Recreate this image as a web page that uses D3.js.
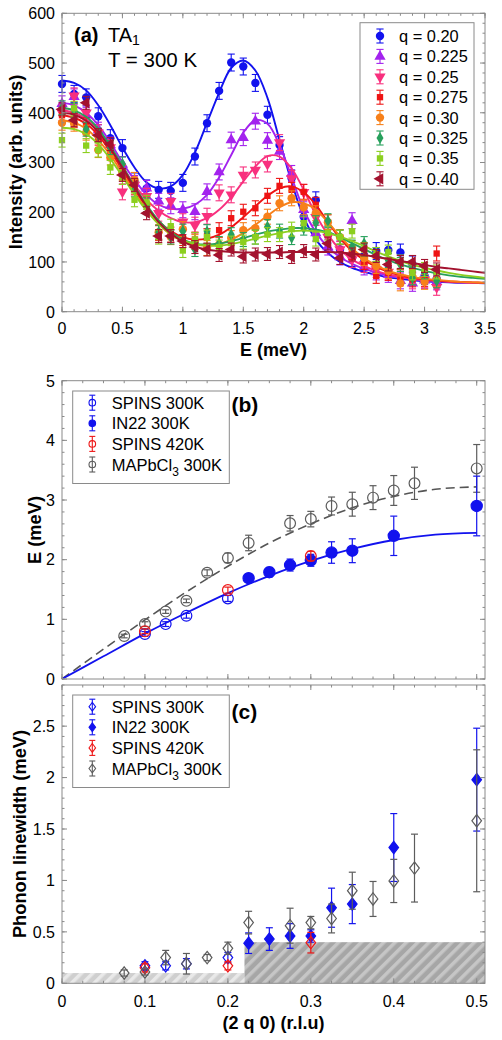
<!DOCTYPE html>
<html><head><meta charset="utf-8">
<script src="https://cdn.jsdelivr.net/npm/d3@7"></script>
<style>body{margin:0;background:#fff}svg{display:block;font-family:"Liberation Sans",Arial,Helvetica,sans-serif}</style>
</head><body><svg id="c" width="502" height="1040"></svg>
<script>
// ---------------- DATA : panel (a) ----------------
const energyGrid = [0,0.1,0.2,0.3,0.4,0.5,0.6,0.7,0.8,0.9,1.0,1.1,1.2,1.3,1.4,1.5,1.6,1.7,1.8,1.9,2.0,2.1,2.2,2.3,2.4,2.5,2.6,2.7,2.8,2.9,3.0,3.1];
const fitGrid = [0,0.1,0.2,0.3,0.4,0.5,0.6,0.7,0.8,0.9,1.0,1.1,1.2,1.3,1.4,1.5,1.6,1.7,1.8,1.9,2.0,2.1,2.2,2.3,2.4,2.5,2.6,2.7,2.8,2.9,3.0,3.1,3.2,3.3,3.4,3.5];
const qLabels = ["q = 0.20","q = 0.225","q = 0.25","q = 0.275","q = 0.30","q = 0.325","q = 0.35","q = 0.40"];

const int020  = [458,438,431,393,349,329,262,248,245,243,259,312,379,444,501,493,460,396,335,268,191,224,155,125,108,100,122,124,119,95,72,66];
const int0225 = [418,432,395,365,335,296,258,248,222,213,205,201,241,281,345,350,383,344,322,278,205,158,130,110,183,90,80,75,62,57,63,60];
const int025  = [400,434,400,360,330,241,255,232,198,222,181,174,192,239,235,275,285,297,340,268,240,190,150,125,105,95,85,80,68,62,64,49];
const int0275 = [395,385,375,350,320,280,250,215,158,155,148,145,152,164,188,201,208,233,253,245,241,215,180,150,120,100,72,78,70,65,66,117];
const int030  = [380,378,360,325,310,280,265,215,160,150,166,140,128,135,148,164,168,191,218,228,210,198,180,150,128,108,92,82,57,70,60,65];
const int0325 = [410,405,367,355,330,297,245,215,160,150,162,125,161,137,155,145,150,171,162,149,168,179,183,150,130,137,115,103,95,68,80,62];
const int035  = [345,409,334,325,290,270,225,220,150,172,123,145,150,130,138,140,150,155,155,166,178,146,158,150,162,125,115,120,100,78,85,80];
const int040  = [407,385,420,355,337,275,255,198,152,152,142,130,125,114,125,111,115,116,120,110,122,115,137,108,115,125,112,95,100,100,92,85];
const intErr  = [17,16,16,15,15,14,14,13];

const fit020  = [465,460,445,415,375,330,290,260,248,252,275,320,380,440,490,505,485,430,345,260,190,145,118,100,88,80,74,69,66,63,61,60,59,58,58,57];
const fit0225 = [420,415,400,375,340,300,265,235,215,207,207,215,235,270,315,360,385,378,335,270,205,160,130,110,96,86,79,73,69,66,63,62,60,59,58,58];
const fit025  = [405,400,388,365,330,292,255,225,203,188,180,180,188,205,230,262,292,313,312,288,245,195,155,125,105,92,82,75,70,66,63,62,60,59,58,58];
const fit0275 = [395,390,378,355,322,285,245,210,182,162,150,145,147,155,170,190,212,233,248,252,240,215,180,148,122,104,90,80,73,68,65,63,61,60,59,58];
const fit030  = [385,380,368,345,315,278,240,205,176,155,142,135,133,136,145,158,175,193,210,220,218,205,180,152,127,108,93,82,75,70,66,64,62,60,59,58];
const fit0325 = [410,405,392,368,333,293,252,215,183,160,145,137,135,137,142,148,155,161,165,168,168,165,160,150,138,126,114,104,95,88,82,77,73,70,68,66];
const fit035  = [370,367,357,337,307,272,236,203,176,156,143,136,133,133,136,141,147,153,158,162,163,162,158,151,142,132,121,111,102,94,88,83,78,74,71,68];
const fit040  = [400,396,384,361,328,290,250,212,180,157,141,131,125,122,120,119,119,119,119,120,120,120,120,119,117,114,110,106,102,98,94,90,87,84,81,78];

const intensityTicks = [0,100,200,300,400,500,600];
const energyTicks = [0,0.5,1,1.5,2,2.5,3,3.5];

// ---------------- DATA : panel (b) ----------------
const dispLabels = ["SPINS 300K","IN22 300K","SPINS 420K","MAPbCl"];
const qSpins300 = [0.1,0.125,0.15,0.2];
const eSpins300 = [0.754,0.92,1.06,1.35];
const eSpins300Err = [0.04,0.04,0.04,0.05];
const qIn22 = [0.225,0.25,0.275,0.3,0.325,0.35,0.4,0.5];
const eIn22 = [1.69,1.79,1.91,1.99,2.12,2.15,2.40,2.90];
const eIn22Err = [0.07,0.08,0.1,0.1,0.18,0.2,0.33,0.5];
const qSpins420 = [0.1,0.2,0.3];
const eSpins420 = [0.80,1.49,2.06];
const eSpins420Err = [0.04,0.05,0.08];
const qMapb = [0.075,0.1,0.125,0.15,0.175,0.2,0.225,0.275,0.3,0.325,0.35,0.375,0.4,0.425,0.5];
const eMapb = [0.72,0.92,1.13,1.31,1.78,2.03,2.28,2.61,2.68,2.90,2.93,3.04,3.16,3.28,3.53];
const eMapbErr = [0.03,0.04,0.03,0.03,0.05,0.08,0.13,0.13,0.13,0.15,0.2,0.2,0.25,0.27,0.4];
const dispFitQ = [0,0.05,0.1,0.15,0.2,0.25,0.3,0.35,0.4,0.45,0.5];
const dispFitMapi = [0,0.38,0.76,1.11,1.44,1.73,1.98,2.18,2.33,2.42,2.45];
const dispFitMapb = [0,0.50,0.99,1.46,1.89,2.28,2.60,2.87,3.06,3.18,3.22];
const energyTicksB = [0,1,2,3,4,5];

// ---------------- DATA : panel (c) ----------------
const wSpins300 = [0.17,0.17,0.19,0.25];
const wSpins300Err = [0.04,0.04,0.05,0.05];
const wIn22 = [0.39,0.43,0.46,0.46,0.735,0.77,1.32,1.98];
const wIn22Err = [0.1,0.11,0.12,0.06,0.19,0.19,0.33,0.5];
const wSpins420 = [0.15,0.17,0.395];
const wSpins420Err = [0.04,0.04,0.1];
const wMapb = [0.10,0.11,0.25,0.19,0.25,0.34,0.59,0.56,0.59,0.63,0.90,0.82,0.995,1.12,1.58];
const wMapbErr = [0.03,0.03,0.07,0.1,0.03,0.06,0.11,0.17,0.06,0.14,0.18,0.17,0.21,0.33,0.69];
const resolutionQ = [0,0.22,0.51];
const resolutionW = [0.1,0.4];
const widthTicks = [0,0.5,1,1.5,2,2.5];
const qTicks = [0,0.1,0.2,0.3,0.4,0.5];

// ---------------- STYLE ----------------
const colA = ["#1212ee","#a323ee","#f8307e","#ee1414","#f7801a","#27a05c","#8ccf1f","#a3122e"];
const shapeA = ["circle","triUp","triDown","square","circle","diamond","square","triLeft"];
const BLUE="#1212ee", RED="#ee1818", GRAY="#5c5c5c", FRAME="#8a8a8a";

const svg = d3.select("#c");
const defs = svg.append("defs");
function hatch(id, base, stripe){
  const p = defs.append("pattern").attr("id",id).attr("patternUnits","userSpaceOnUse")
    .attr("width",8).attr("height",8).attr("patternTransform","rotate(45)");
  p.append("rect").attr("width",8).attr("height",8).attr("fill",base);
  p.append("rect").attr("width",3.5).attr("height",8).attr("fill",stripe);
}
hatch("hL","#cfcfcf","#e9e9e9");
hatch("hR","#a6a6a6","#c6c6c6");

function symPath(shape, size){
  const map = {circle:d3.symbolCircle, triUp:d3.symbolTriangle, triDown:d3.symbolTriangle, triLeft:d3.symbolTriangle, square:d3.symbolSquare, diamond:d3.symbolDiamond};
  return d3.symbol().type(map[shape]).size(size)();
}
function symRot(shape){ return shape==="triDown"?180:(shape==="triLeft"?-90:0); }

function frame(g, x, y, xMaj, xMin, yMaj, yMin){
  const [x0,x1]=x.range(), [y0,y1]=y.range();
  const t = g.append("g").attr("stroke",FRAME).attr("stroke-width",1);
  const yt = Math.min(y0,y1), yb = Math.max(y0,y1);
  xMin.forEach(v=>{const px=x(v); t.append("line").attr("x1",px).attr("x2",px).attr("y1",yb).attr("y2",yb-2.5);
    t.append("line").attr("x1",px).attr("x2",px).attr("y1",yt).attr("y2",yt+2.5);});
  xMaj.forEach(v=>{const px=x(v); t.append("line").attr("x1",px).attr("x2",px).attr("y1",yb).attr("y2",yb-5);
    t.append("line").attr("x1",px).attr("x2",px).attr("y1",yt).attr("y2",yt+5);});
  yMin.forEach(v=>{const py=y(v); t.append("line").attr("y1",py).attr("y2",py).attr("x1",x0).attr("x2",x0+2.5);
    t.append("line").attr("y1",py).attr("y2",py).attr("x1",x1).attr("x2",x1-2.5);});
  yMaj.forEach(v=>{const py=y(v); t.append("line").attr("y1",py).attr("y2",py).attr("x1",x0).attr("x2",x0+5);
    t.append("line").attr("y1",py).attr("y2",py).attr("x1",x1).attr("x2",x1-5);});
  t.append("rect").attr("x",x0).attr("y",yt).attr("width",x1-x0).attr("height",yb-yt).attr("fill","none");
}
function yLabels(g, y, vals, fmt){
  g.selectAll(null).data(vals).enter().append("text").attr("x",55).attr("y",d=>y(d)+5.8)
    .attr("text-anchor","end").attr("font-size",16).text(fmt);
}
function errbar(g, px, py1, py2, cap, color, w){
  g.append("line").attr("x1",px).attr("x2",px).attr("y1",py1).attr("y2",py2).attr("stroke",color).attr("stroke-width",w);
  g.append("line").attr("x1",px-cap).attr("x2",px+cap).attr("y1",py1).attr("y2",py1).attr("stroke",color).attr("stroke-width",w);
  g.append("line").attr("x1",px-cap).attr("x2",px+cap).attr("y1",py2).attr("y2",py2).attr("stroke",color).attr("stroke-width",w);
}

// ================= PANEL (a) =================
const xA = d3.scaleLinear().domain([0,3.5]).range([62,485]);
const yA = d3.scaleLinear().domain([0,600]).range([311.7,13.3]);
const gA = svg.append("g");
defs.append("clipPath").attr("id","clipA").append("rect").attr("x",62).attr("y",13.3).attr("width",423).attr("height",298.4);

const intens = [int020,int0225,int025,int0275,int030,int0325,int035,int040];
const fits = [fit020,fit0225,fit025,fit0275,fit030,fit0325,fit035,fit040];
const lineA = d3.line().x((d,i)=>xA(fitGrid[i])).y(d=>yA(d)).curve(d3.curveCatmullRom.alpha(0.5));

const order=[0,1,2,3,4,5,6,7];
order.forEach(s=>{
  const g = gA.append("g");
  intens[s].forEach((v,i)=>{
    const px=xA(energyGrid[i]);
    errbar(g, px, yA(v+intErr[s]), yA(v-intErr[s]), 3.6, colA[s], 1.1);
    g.append("path").attr("d",symPath(shapeA[s], shapeA[s]==="square"?40:(shapeA[s]==="diamond"?42:55)))
      .attr("transform",`translate(${px},${yA(v)}) rotate(${symRot(shapeA[s])})`).attr("fill",colA[s]);
  });
  gA.append("path").attr("d",lineA(fits[s])).attr("fill","none").attr("stroke",colA[s]).attr("stroke-width",1.9)
    .attr("clip-path","url(#clipA)");
});
frame(gA, xA, yA, energyTicks, d3.range(0,3.51,0.1), intensityTicks, d3.range(0,601,20));
yLabels(gA, yA, intensityTicks, d=>d);
gA.selectAll(null).data(energyTicks).enter().append("text").attr("x",d=>xA(d)).attr("y",334)
  .attr("text-anchor","middle").attr("font-size",16).text(d=>d);
gA.append("text").attr("x",273.5).attr("y",356).attr("text-anchor","middle").attr("font-size",18).attr("font-weight","bold").text("E (meV)");
gA.append("text").attr("transform","translate(21.5,162) rotate(-90)").attr("text-anchor","middle").attr("font-size",18.3).attr("font-weight","bold").text("Intensity (arb. units)");
gA.append("text").attr("x",74).attr("y",42).attr("font-size",20).attr("font-weight","bold").text("(a)");
const ta = gA.append("text").attr("x",108).attr("y",42).attr("font-size",20);
ta.append("tspan").text("TA");
ta.append("tspan").attr("font-size",14).attr("dy",3).text("1");
gA.append("text").attr("x",108).attr("y",67).attr("font-size",20.5).text("T = 300 K");
// legend (a)
const lgA = gA.append("g");
lgA.append("rect").attr("x",360).attr("y",22.7).attr("width",114).attr("height",166.6).attr("fill","#fff").attr("stroke",FRAME).attr("stroke-width",1);
qLabels.forEach((lab,s)=>{
  const cy = 36 + s*20.4;
  errbar(lgA, 380, cy-7, cy+7, 3.6, colA[s], 1.1);
  lgA.append("path").attr("d",symPath(shapeA[s], shapeA[s]==="square"?40:(shapeA[s]==="diamond"?42:55)))
    .attr("transform",`translate(380,${cy}) rotate(${symRot(shapeA[s])})`).attr("fill",colA[s]);
  lgA.append("text").attr("x",399).attr("y",cy+6).attr("font-size",16.4).text(lab);
});

// ================= PANEL (b) =================
const xB = d3.scaleLinear().domain([0,0.51]).range([62,485]);
const yB = d3.scaleLinear().domain([0,5]).range([679,380.7]);
const gB = svg.append("g");
const lineB = d3.line().x((d,i)=>xB(dispFitQ[i])).y(d=>yB(d)).curve(d3.curveMonotoneX);
gB.append("path").attr("d",lineB(dispFitMapb)).attr("fill","none").attr("stroke","#555").attr("stroke-width",1.6).attr("stroke-dasharray","9,5");
gB.append("path").attr("d",lineB(dispFitMapi)).attr("fill","none").attr("stroke",BLUE).attr("stroke-width",1.8);

function pointsB(g, qs, vs, es, color, filled, r){
  qs.forEach((q,i)=>{
    const px=xB(q);
    errbar(g, px, yB(vs[i]+es[i]), yB(vs[i]-es[i]), 3.5, color, 1.2);
    g.append("circle").attr("cx",px).attr("cy",yB(vs[i])).attr("r",r)
      .attr("fill",filled?color:"none").attr("stroke",color).attr("stroke-width",1.2);
  });
}
pointsB(gB, qMapb, eMapb, eMapbErr, GRAY, false, 5.4);
pointsB(gB, qSpins300, eSpins300, eSpins300Err, BLUE, false, 5.4);
pointsB(gB, qIn22, eIn22, eIn22Err, BLUE, true, 5.6);
pointsB(gB, qSpins420, eSpins420, eSpins420Err, RED, false, 5.4);
frame(gB, xB, yB, qTicks, d3.range(0,0.51,0.025), energyTicksB, d3.range(0,5.01,0.2));
yLabels(gB, yB, energyTicksB, d=>d);
gB.append("text").attr("transform","translate(40.5,530) rotate(-90)").attr("text-anchor","middle").attr("font-size",18.3).attr("font-weight","bold").text("E (meV)");
gB.append("text").attr("x",231.5).attr("y",411.5).attr("font-size",21).attr("font-weight","bold").text("(b)");

function legendBC(g, y0, kind){
  g.append("rect").attr("x",72.7).attr("y",y0).attr("width",156.6).attr("height",92.5).attr("fill","#fff").attr("stroke",FRAME).attr("stroke-width",1);
  const cols=[BLUE,BLUE,RED,GRAY], fill=[false,true,false,false];
  dispLabels.forEach((lab,i)=>{
    const cy = y0 + 11.7 + i*20.6;
    errbar(g, 92.3, cy-7.5, cy+7.5, 3, cols[i], 1.1);
    if(kind==="circle"){
      g.append("circle").attr("cx",92.3).attr("cy",cy).attr("r",3.3).attr("fill",fill[i]?cols[i]:"none").attr("stroke",cols[i]).attr("stroke-width",1.1);
    } else {
      g.append("path").attr("d",`M0,-4.4L3.3,0L0,4.4L-3.3,0Z`).attr("transform",`translate(92.3,${cy})`)
        .attr("fill",fill[i]?cols[i]:"none").attr("stroke",cols[i]).attr("stroke-width",1.1);
    }
    const t = g.append("text").attr("x",111.7).attr("y",cy+6).attr("font-size",16.5);
    if(i===3){
      t.append("tspan").text(lab);
      t.append("tspan").attr("font-size",12).attr("dy",5).text("3");
      t.append("tspan").attr("dy",-5).text(" 300K");
    } else t.text(lab);
  });
}
legendBC(gB, 391, "circle");

// ================= PANEL (c) =================
const xC = d3.scaleLinear().domain([0,0.51]).range([62,485]);
const yC = d3.scaleLinear().domain([0,2.9]).range([983.3,685]);
const gC = svg.append("g");
resolutionW.forEach((w,i)=>{
  gC.append("rect").attr("x",xC(resolutionQ[i])).attr("y",yC(w)).attr("width",xC(resolutionQ[i+1])-xC(resolutionQ[i]))
    .attr("height",yC(0)-yC(w)).attr("fill",i===0?"url(#hL)":"url(#hR)");
});
function pointsC(g, qs, vs, es, color, filled){
  qs.forEach((q,i)=>{
    const px=xC(q), py=yC(vs[i]);
    errbar(g, px, yC(vs[i]+es[i]), yC(vs[i]-es[i]), 3.5, color, 1.2);
    g.append("path").attr("d","M0,-6.2L4.8,0L0,6.2L-4.8,0Z").attr("transform",`translate(${px},${py})`)
      .attr("fill",filled?color:"none").attr("stroke",color).attr("stroke-width",1.2);
  });
}
pointsC(gC, qIn22, wIn22, wIn22Err, BLUE, true);
pointsC(gC, qSpins300, wSpins300, wSpins300Err, BLUE, false);
pointsC(gC, qSpins420, wSpins420, wSpins420Err, RED, false);
pointsC(gC, qMapb, wMapb, wMapbErr, GRAY, false);
frame(gC, xC, yC, qTicks, d3.range(0,0.51,0.025), widthTicks, d3.range(0,2.91,0.1));
yLabels(gC, yC, widthTicks, d=>d);
gC.selectAll(null).data(qTicks).enter().append("text").attr("x",d=>xC(d)).attr("y",1007)
  .attr("text-anchor","middle").attr("font-size",16).text(d=>d);
gC.append("text").attr("x",273.5).attr("y",1028.5).attr("text-anchor","middle").attr("font-size",18).attr("font-weight","bold").text("(2 q 0) (r.l.u)");
gC.append("text").attr("transform","translate(25.5,834) rotate(-90)").attr("text-anchor","middle").attr("font-size",18.3).attr("font-weight","bold").text("Phonon linewidth (meV)");
gC.append("text").attr("x",231.5).attr("y",719).attr("font-size",21).attr("font-weight","bold").text("(c)");
legendBC(gC, 695, "diamond");
</script></body></html>
